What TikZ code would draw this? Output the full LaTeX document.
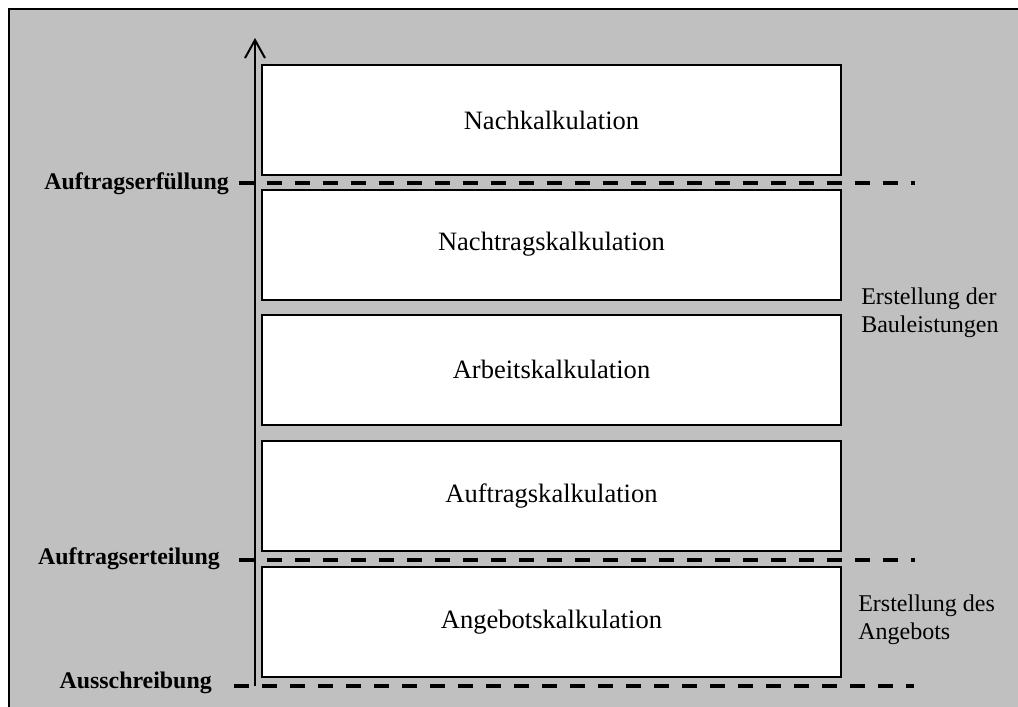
\documentclass[tikz,border=0pt]{standalone}
\usepackage{fontspec}
\setmainfont{Liberation Serif}
\usetikzlibrary{arrows.meta}
\definecolor{panel}{RGB}{192,192,192}
\begin{document}
\begin{tikzpicture}[x=0.75pt,y=-0.75pt,
  phase/.style={draw=black,line width=1.5pt,fill=white,inner sep=0pt,
    minimum width=434.25pt,minimum height=82.5pt,
    font=\fontsize{19.9}{24}\selectfont},
  milestone/.style={inner sep=0pt,font=\fontsize{17.9}{21}\selectfont\bfseries},
  note/.style={inner sep=0pt,align=left,font=\fontsize{18}{21}\selectfont},
  cut/.style={line width=2.8pt,dash pattern=on 11.25pt off 9.75pt},
  axis/.style={line width=1.5pt,-{Straight Barb[length=13.5pt,width=15pt,line width=1.5pt]}}]
\useasboundingbox (0,0) rectangle (1018,707);
% frame
\fill[white] (0,0) rectangle (1018,707);
\fill[panel] (9,9) rectangle (1018,707);
\draw[line width=1.5pt] (9,707) -- (9,9) -- (1018,9);

% calculation phases
\node[phase] (nach)     at (551.5,120)   {Nachkalkulation};
\node[phase] (nachtrag) at (551.5,244.5) {Nachtragskalkulation};
\node[phase] (arbeit)   at (551.5,369.5) {Arbeitskalkulation};
\node[phase] (auftrag)  at (551.5,496)   {Auftragskalkulation};
\node[phase] (angebot)  at (551.5,622)   {Angebotskalkulation};

% milestones
\node[milestone,anchor=base east] (erfuellung) at (229,189) {Auftragserfüllung};
\node[milestone,anchor=base east] (erteilung)  at (220,564) {Auftragserteilung};
\node[milestone,anchor=base east] (ausschr)    at (212,688) {Ausschreibung};

\coordinate (erfA) at (239,183); \coordinate (erfB) at (915,183);
\coordinate (ertA) at (239,560); \coordinate (ertB) at (915,560);
\coordinate (ausA) at (234,686); \coordinate (ausB) at (914,686);
\draw[cut] (erfA) -- (erfB);
\draw[cut] (ertA) -- (ertB);
\draw[cut] (ausA) -- (ausB);

% time axis
\coordinate (axisBase) at (255,686);
\coordinate (axisTip)  at (255,38);
\draw[axis] (axisBase) -- (axisTip);

% stage notes
\node[note,anchor=north west] (bau) at (861,287.6) {Erstellung der\\Bauleistungen};
\node[note,anchor=north west] (ang) at (858,594.6) {Erstellung des\\Angebots};
\end{tikzpicture}
\end{document}
